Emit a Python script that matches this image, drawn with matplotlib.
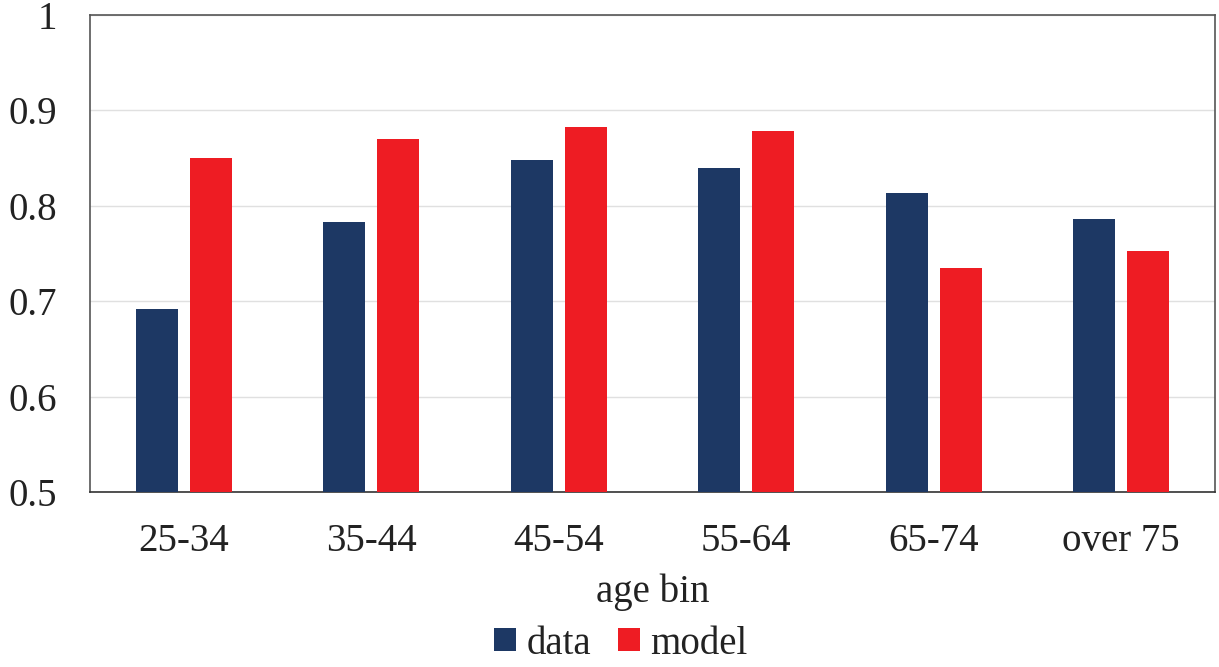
import matplotlib
matplotlib.use("Agg")
import matplotlib.pyplot as plt
import numpy as np

categories = ["25-34", "35-44", "45-54", "55-64", "65-74", "over 75"]
data_vals = [0.692, 0.783, 0.848, 0.840, 0.813, 0.786]
model_vals = [0.850, 0.870, 0.883, 0.878, 0.735, 0.753]
yticks = [0.5, 0.6, 0.7, 0.8, 0.9, 1.0]
ytick_labels = ["0.5", "0.6", "0.7", "0.8", "0.9", "1"]

plt.rcParams['font.family'] = ['Liberation Serif', 'DejaVu Serif']

fig = plt.figure(figsize=(12.19, 6.67), dpi=100)
ax = fig.add_axes([90/1219, 1 - 492/667, (1215-90)/1219, (492-15)/667])

x = np.arange(len(categories))
w = 0.224
off = 0.144
ax.bar(x - off, data_vals, width=w, color="#1d3864", zorder=3, label="data")
ax.bar(x + off, model_vals, width=w, color="#ee1c23", zorder=3, label="model")

ax.set_xlim(-0.5, len(categories) - 0.5)
ax.set_ylim(0.5, 1.0)
ax.set_yticks(yticks)
ax.set_yticklabels(ytick_labels)
ax.set_xticks(x)
ax.set_xticklabels(categories)
ax.tick_params(axis='both', length=0, labelsize=28, colors="#222222")
ax.tick_params(axis='x', pad=22)
ax.tick_params(axis='y', pad=24)
ax.yaxis.grid(True, color="#e0e0e0", linewidth=1, zorder=0)
for s in ax.spines.values():
    s.set_color("#555555")
    s.set_linewidth(1.2)
ax.spines['bottom'].set_color("#333333")

ax.set_xlabel("age bin", fontsize=28, color="#222222", labelpad=10)
fig.legend(loc="center", bbox_to_anchor=(621/1219, 1 - 644/667), ncol=2, frameon=False,
           fontsize=28, handlelength=0.55, handleheight=0.55, handletextpad=0.28,
           columnspacing=0.7, labelcolor="#222222", borderpad=0.1)

fig.savefig("out.png", dpi=100)
